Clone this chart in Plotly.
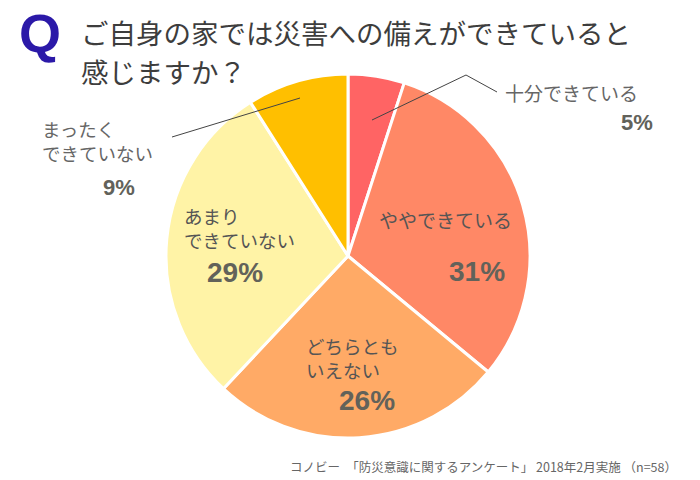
import plotly.graph_objects as go

# Data
categories = ["十分できている", "ややできている", "どちらともいえない", "あまりできていない", "まったくできていない"]
label_texts = ["十分できている", "ややできている", "どちらとも<br>いえない", "あまり<br>できていない", "まったく<br>できていない"]
values = [5, 31, 26, 29, 9]
pct_labels = ["5%", "31%", "26%", "29%", "9%"]
colors = ["#FF6464", "#FF8866", "#FFAA66", "#FFF3A6", "#FFBF00"]

W, H = 700, 480


def px(x):
    return x / W


def py(y):
    return 1 - y / H


cx, cy, r = 348, 256, 182

fig = go.Figure(go.Pie(
    labels=categories,
    values=values,
    sort=False,
    direction="clockwise",
    rotation=0,
    marker=dict(colors=colors, line=dict(color="white", width=3)),
    textinfo="none",
    hoverinfo="label+percent",
    showlegend=False,
    domain=dict(x=[px(cx - r), px(cx + r)], y=[py(cy + r), py(cy - r)]),
))

JP = "Noto Sans CJK JP"
NUM = "Liberation Sans, Arial, sans-serif"
label_color = "#666666"
num_color = "#62625a"

ann = []

def text(x, y, s, size, color, family=JP, xanchor="left", bold=False):
    if bold:
        s = "<b>" + s + "</b>"
    ann.append(dict(x=px(x), y=py(y), xref="paper", yref="paper", text=s,
                    showarrow=False, xanchor=xanchor, yanchor="middle", align="left",
                    font=dict(family=family, size=size, color=color)))

# Title
text(17, 33, "Q", 54, "#2B19A8", family="Liberation Sans, Arial", bold=True)
text(79, 32, "ご自身の家では災害への備えができていると", 27.5, "#3d3d3d")
text(79, 71, "感じますか？", 27.5, "#3d3d3d")

# Slice labels
text(503, 92, label_texts[0], 19, label_color)
text(655, 123, pct_labels[0], 22, num_color, family=NUM, xanchor="right", bold=True)

text(377, 219, label_texts[1], 19, "#555555")
text(507, 271, pct_labels[1], 28, num_color, family=NUM, xanchor="right", bold=True)

text(304, 358, label_texts[2], 18.5, "#555555")
text(397, 400, pct_labels[2], 28, num_color, family=NUM, xanchor="right", bold=True)

text(182, 228, label_texts[3], 18.5, "#555555")
text(265, 272, pct_labels[3], 28, num_color, family=NUM, xanchor="right", bold=True)

text(40, 141, label_texts[4], 18.5, label_color)
text(137, 188, pct_labels[4], 22, num_color, family=NUM, xanchor="right", bold=True)

# Footer
text(679, 466, "コノビー　「防災意識に関するアンケート」 2018年2月実施 （n=58）", 12.5, "#666666", xanchor="right")

shapes = [
    dict(type="path", xref="paper", yref="paper",
         path=f"M {px(372)},{py(120)} L {px(466)},{py(75)} L {px(497)},{py(92)}",
         line=dict(color="#444444", width=1)),
    dict(type="line", xref="paper", yref="paper",
         x0=px(172), y0=py(137), x1=px(300), y1=py(98),
         line=dict(color="#444444", width=1)),
]

fig.update_layout(
    width=W, height=H,
    margin=dict(l=0, r=0, t=0, b=0),
    paper_bgcolor="white",
    plot_bgcolor="white",
    annotations=ann,
    shapes=shapes,
)

fig.write_html("out.html", config={"displayModeBar": False},
               post_script="document.body.style.margin='0';document.body.style.overflow='hidden';")
